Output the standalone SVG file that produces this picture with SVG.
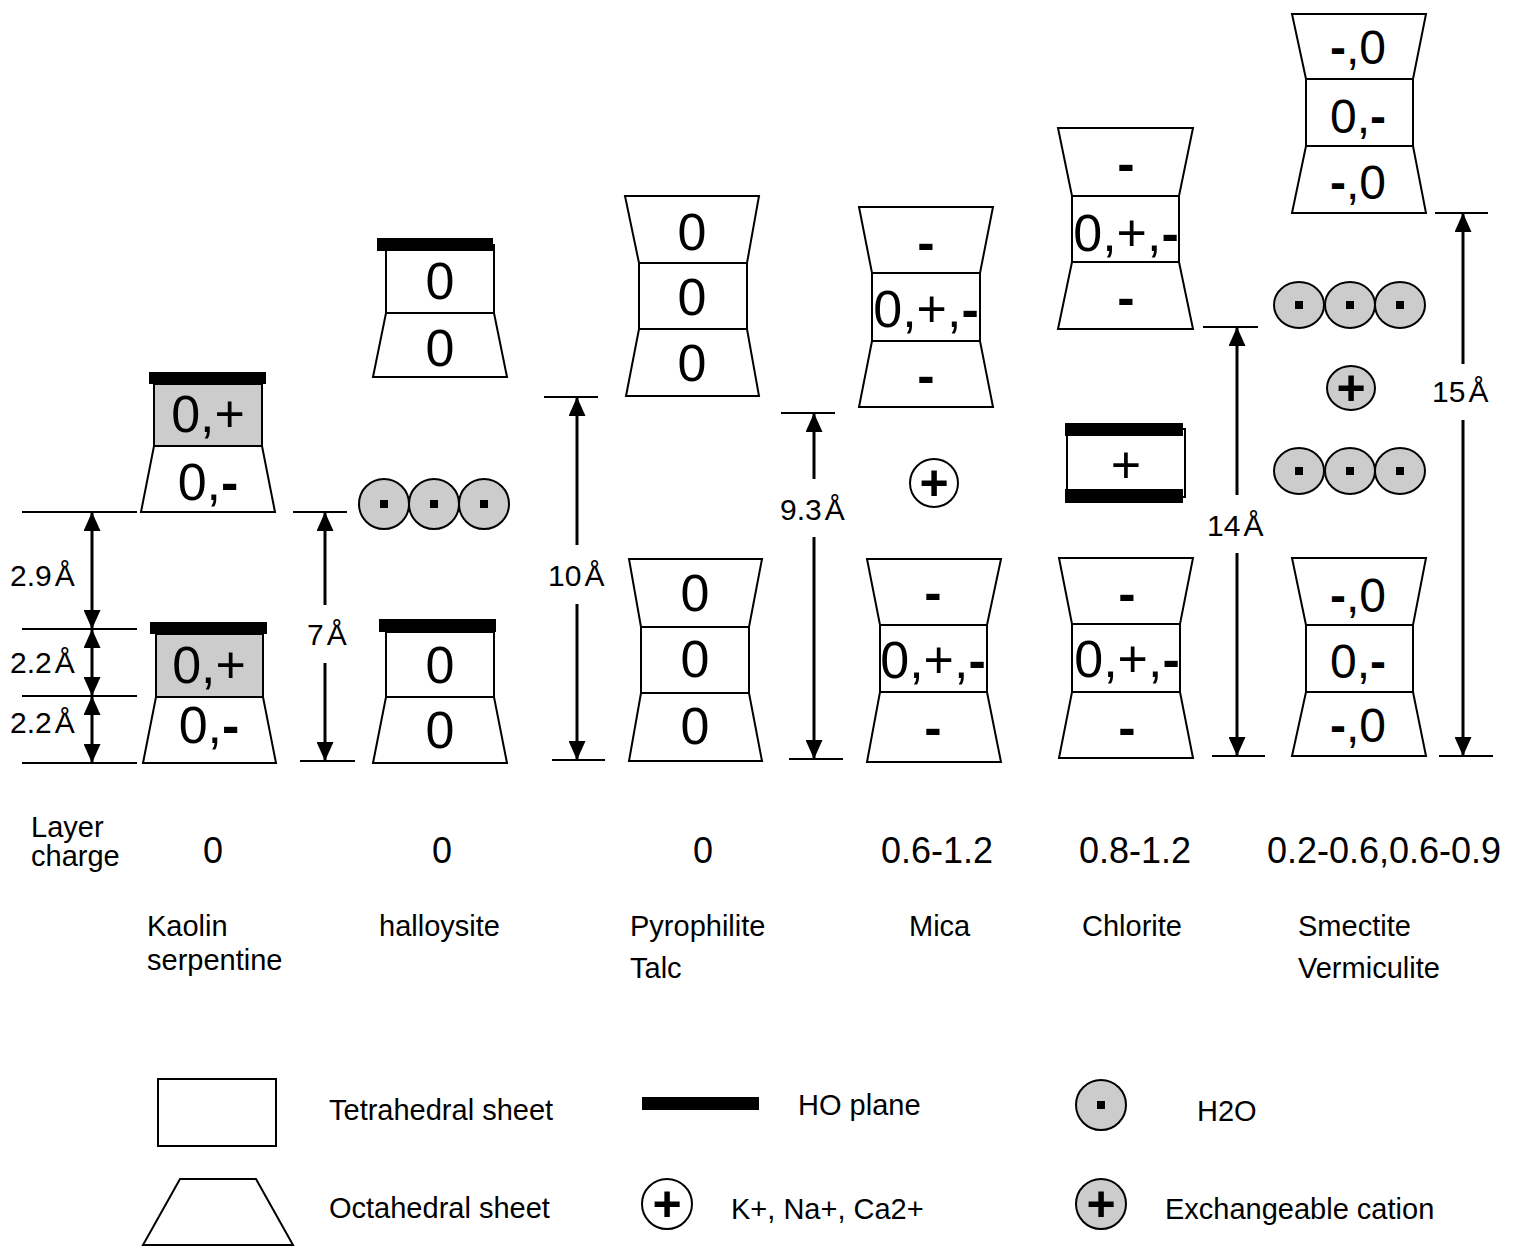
<svg xmlns="http://www.w3.org/2000/svg" width="1518" height="1248" viewBox="0 0 1518 1248">
<style>
.s{fill:#fff;stroke:#000;stroke-width:2}
.g{fill:#ccc;stroke:#000;stroke-width:2}
.ho{fill:#000}
text{font-family:"Liberation Sans",Arial,sans-serif;fill:#000}
.big{font-size:52px;text-anchor:middle}
.sm{font-size:48px;text-anchor:middle}
.pl{font-size:50px;font-weight:bold;text-anchor:middle}
.b{font-weight:bold}
.lbl{font-size:29px}
.chg{font-size:36px;text-anchor:middle}
.dim{font-size:30px}
.tick{stroke:#000;stroke-width:2}
.arr{stroke:#000;stroke-width:3;fill:none;marker-end:url(#ah)}
.dbl{stroke:#000;stroke-width:3;fill:none;marker-start:url(#ah);marker-end:url(#ah)}
</style>
<defs>
<marker id="ah" markerUnits="userSpaceOnUse" markerWidth="19" markerHeight="17" viewBox="0 0 19 17" refX="19" refY="8.5" orient="auto-start-reverse">
<path d="M0,0 L19,8.5 L0,17 z" fill="#000"/>
</marker>
<g id="h2o"><circle cx="0" cy="0" r="25" class="g"/><rect x="-4" y="-4" width="8" height="8" fill="#000"/></g>
<g id="h2oe"><ellipse cx="0" cy="0" rx="25" ry="23" class="g"/><rect x="-4" y="-4" width="8" height="8" fill="#000"/></g>
</defs>

<g id="kaolin">
<g id="kaolin-upper">
<rect class="g" x="154" y="384" width="108" height="62"/>
<polygon class="s" points="154,446 262,446 275,512 141,512"/>
<rect class="ho" x="149" y="372" width="117" height="12"/>
<text class="big" x="208" y="432">0,+</text>
<text class="big" x="208" y="500">0,<tspan class="b">-</tspan></text>
</g>
<g id="kaolin-lower">
<rect class="g" x="156" y="634" width="107" height="63"/>
<polygon class="s" points="156,697 263,697 276,763 143,763"/>
<rect class="ho" x="150" y="622" width="117" height="12"/>
<text class="big" x="209" y="683">0,+</text>
<text class="big" x="209" y="743">0,<tspan class="b">-</tspan></text>
</g>
</g>

<g id="halloysite">
<g id="halloysite-upper">
<rect class="s" x="386" y="245" width="108" height="68"/>
<polygon class="s" points="386,313 494,313 507,377 373,377"/>
<rect class="ho" x="377" y="238" width="116" height="13"/>
<text class="big" x="440" y="299">0</text>
<text class="big" x="440" y="366">0</text>
</g>
<g id="halloysite-water">
<use href="#h2o" x="384" y="504"/>
<use href="#h2o" x="434" y="504"/>
<use href="#h2o" x="484" y="504"/>
</g>
<g id="halloysite-lower">
<rect class="s" x="386" y="632" width="108" height="65"/>
<polygon class="s" points="386,697 494,697 507,763 373,763"/>
<rect class="ho" x="379" y="619" width="117" height="13"/>
<text class="big" x="440" y="683">0</text>
<text class="big" x="440" y="748">0</text>
</g>
</g>

<g id="pyrophilite">
<g id="pyrophilite-upper">
<polygon class="s" points="625,196 759,196 747,263 639,263"/>
<rect class="s" x="639" y="263" width="108" height="66"/>
<polygon class="s" points="639,329 747,329 759,396 626,396"/>
<text class="big" x="692" y="250">0</text>
<text class="big" x="692" y="315">0</text>
<text class="big" x="692" y="381">0</text>
</g>
<g id="pyrophilite-lower">
<polygon class="s" points="629,559 762,559 749,627 641,627"/>
<rect class="s" x="641" y="627" width="108" height="66"/>
<polygon class="s" points="641,693 749,693 762,761 629,761"/>
<text class="big" x="695" y="611">0</text>
<text class="big" x="695" y="677">0</text>
<text class="big" x="695" y="744">0</text>
</g>
</g>

<g id="mica">
<g id="mica-upper">
<polygon class="s" points="859,207 993,207 980,273 872,273"/>
<rect class="s" x="872" y="273" width="108" height="68"/>
<polygon class="s" points="872,341 980,341 993,407 859,407"/>
<text class="big b" x="926" y="260">-</text>
<text class="big" x="926" y="327">0,+,<tspan class="b">-</tspan></text>
<text class="big b" x="926" y="393">-</text>
</g>
<g id="mica-cation">
<circle class="s" cx="934" cy="483" r="24"/>
<text class="pl" x="934" y="500">+</text>
</g>
<g id="mica-lower">
<polygon class="s" points="867,559 1001,559 987,625 880,625"/>
<rect class="s" x="880" y="625" width="107" height="67"/>
<polygon class="s" points="880,692 987,692 1001,762 867,762"/>
<text class="big b" x="933" y="610">-</text>
<text class="big" x="933" y="678">0,+,<tspan class="b">-</tspan></text>
<text class="big b" x="933" y="745">-</text>
</g>
</g>

<g id="chlorite">
<g id="chlorite-upper">
<polygon class="s" points="1058,128 1193,128 1179,196 1072,196"/>
<rect class="s" x="1072" y="196" width="107" height="66"/>
<polygon class="s" points="1072,262 1179,262 1193,329 1058,329"/>
<text class="big b" x="1126" y="181">-</text>
<text class="big" x="1126" y="251">0,+,<tspan class="b">-</tspan></text>
<text class="big b" x="1126" y="315">-</text>
</g>
<g id="chlorite-brucite">
<rect class="s" x="1067" y="429" width="118" height="68"/>
<rect class="ho" x="1065" y="423" width="118" height="13"/>
<rect class="ho" x="1065" y="489" width="118" height="14"/>
<text class="big" x="1126" y="483">+</text>
</g>
<g id="chlorite-lower">
<polygon class="s" points="1059,558 1193,558 1180,624 1072,624"/>
<rect class="s" x="1072" y="624" width="108" height="68"/>
<polygon class="s" points="1072,692 1180,692 1193,758 1059,758"/>
<text class="big b" x="1127" y="611">-</text>
<text class="big" x="1127" y="677">0,+,<tspan class="b">-</tspan></text>
<text class="big b" x="1127" y="745">-</text>
</g>
</g>

<g id="smectite">
<g id="smectite-upper">
<polygon class="s" points="1292,14 1426,14 1413,79 1306,79"/>
<rect class="s" x="1306" y="79" width="107" height="67"/>
<polygon class="s" points="1306,146 1413,146 1426,213 1292,213"/>
<text class="sm" x="1358" y="64"><tspan class="b">-</tspan>,0</text>
<text class="sm" x="1358" y="133">0,<tspan class="b">-</tspan></text>
<text class="sm" x="1358" y="199"><tspan class="b">-</tspan>,0</text>
</g>
<g id="smectite-water-1">
<use href="#h2oe" x="1299" y="305"/>
<use href="#h2oe" x="1350" y="305"/>
<use href="#h2oe" x="1400" y="305"/>
</g>
<g id="smectite-cation">
<ellipse class="g" cx="1351" cy="388" rx="24" ry="22"/>
<text class="pl" x="1351" y="405">+</text>
</g>
<g id="smectite-water-2">
<use href="#h2oe" x="1299" y="471"/>
<use href="#h2oe" x="1350" y="471"/>
<use href="#h2oe" x="1400" y="471"/>
</g>
<g id="smectite-lower">
<polygon class="s" points="1292,558 1426,558 1413,625 1306,625"/>
<rect class="s" x="1306" y="625" width="107" height="67"/>
<polygon class="s" points="1306,692 1413,692 1426,756 1292,756"/>
<text class="sm" x="1358" y="612"><tspan class="b">-</tspan>,0</text>
<text class="sm" x="1358" y="678">0,<tspan class="b">-</tspan></text>
<text class="sm" x="1358" y="742"><tspan class="b">-</tspan>,0</text>
</g>
</g>

<g id="connectors">
<line class="tick" x1="22" y1="512" x2="137" y2="512"/>
<line class="tick" x1="22" y1="629" x2="137" y2="629"/>
<line class="tick" x1="22" y1="696" x2="137" y2="696"/>
<line class="tick" x1="22" y1="763" x2="137" y2="763"/>
<line class="dbl" x1="92" y1="512" x2="92" y2="629"/>
<line class="dbl" x1="92" y1="629" x2="92" y2="696"/>
<line class="dbl" x1="92" y1="696" x2="92" y2="763"/>

<line class="tick" x1="293" y1="512" x2="347" y2="512"/>
<line class="tick" x1="300" y1="761" x2="355" y2="761"/>
<line class="arr" x1="325" y1="605" x2="325" y2="512"/>
<line class="arr" x1="325" y1="663" x2="325" y2="761"/>

<line class="tick" x1="544" y1="397" x2="598" y2="397"/>
<line class="tick" x1="552" y1="760" x2="605" y2="760"/>
<line class="arr" x1="577" y1="545" x2="577" y2="397"/>
<line class="arr" x1="577" y1="604" x2="577" y2="760"/>

<line class="tick" x1="781" y1="413" x2="835" y2="413"/>
<line class="tick" x1="789" y1="759" x2="843" y2="759"/>
<line class="arr" x1="814" y1="479" x2="814" y2="413"/>
<line class="arr" x1="814" y1="537" x2="814" y2="759"/>

<line class="tick" x1="1203" y1="327" x2="1258" y2="327"/>
<line class="tick" x1="1212" y1="756" x2="1265" y2="756"/>
<line class="arr" x1="1237" y1="495" x2="1237" y2="327"/>
<line class="arr" x1="1237" y1="553" x2="1237" y2="756"/>

<line class="tick" x1="1435" y1="213" x2="1488" y2="213"/>
<line class="tick" x1="1439" y1="756" x2="1493" y2="756"/>
<line class="arr" x1="1463" y1="364" x2="1463" y2="213"/>
<line class="arr" x1="1463" y1="420" x2="1463" y2="756"/>
</g>

<g id="dimension-labels">
<text class="dim" x="10" y="586">2.9<tspan dx="3">Å</tspan></text>
<text class="dim" x="10" y="673">2.2<tspan dx="3">Å</tspan></text>
<text class="dim" x="10" y="733">2.2<tspan dx="3">Å</tspan></text>
<text class="dim" x="307" y="645">7<tspan dx="3">Å</tspan></text>
<text class="dim" x="548" y="586">10<tspan dx="3">Å</tspan></text>
<text class="dim" x="780" y="520">9.3<tspan dx="3">Å</tspan></text>
<text class="dim" x="1207" y="536">14<tspan dx="3">Å</tspan></text>
<text class="dim" x="1432" y="402">15<tspan dx="3">Å</tspan></text>
</g>

<g id="layer-charge">
<text class="lbl" x="31" y="837">Layer</text>
<text class="lbl" x="31" y="866">charge</text>
<text class="chg" x="213" y="863">0</text>
<text class="chg" x="442" y="863">0</text>
<text class="chg" x="703" y="863">0</text>
<text class="chg" x="937" y="863">0.6-1.2</text>
<text class="chg" x="1135" y="863">0.8-1.2</text>
<text class="chg" x="1384" y="863">0.2-0.6,0.6-0.9</text>
</g>

<g id="names">
<text class="lbl" x="147" y="936">Kaolin</text>
<text class="lbl" x="147" y="970">serpentine</text>
<text class="lbl" x="379" y="936">halloysite</text>
<text class="lbl" x="630" y="936">Pyrophilite</text>
<text class="lbl" x="630" y="978">Talc</text>
<text class="lbl" x="909" y="936">Mica</text>
<text class="lbl" x="1082" y="936">Chlorite</text>
<text class="lbl" x="1298" y="936">Smectite</text>
<text class="lbl" x="1298" y="978">Vermiculite</text>
</g>

<g id="legend">
<g id="legend-tetrahedral">
<rect class="s" x="158" y="1079" width="118" height="67"/>
<text class="lbl" x="329" y="1120">Tetrahedral sheet</text>
</g>
<g id="legend-octahedral">
<polygon class="s" points="180,1179 256,1179 293,1245 143,1245"/>
<text class="lbl" x="329" y="1218">Octahedral sheet</text>
</g>
<g id="legend-ho">
<rect class="ho" x="642" y="1097" width="117" height="13"/>
<text class="lbl" x="798" y="1115">HO plane</text>
</g>
<g id="legend-k">
<circle class="s" cx="667" cy="1204" r="25"/>
<text class="pl" x="667" y="1221">+</text>
<text class="lbl" x="731" y="1219">K+, Na+, Ca2+</text>
</g>
<g id="legend-h2o">
<use href="#h2o" x="1101" y="1105"/>
<text class="lbl" x="1197" y="1121">H2O</text>
</g>
<g id="legend-exch">
<circle class="g" cx="1101" cy="1204" r="25"/>
<text class="pl" x="1101" y="1221">+</text>
<text class="lbl" x="1165" y="1219">Exchangeable cation</text>
</g>
</g>
</svg>
